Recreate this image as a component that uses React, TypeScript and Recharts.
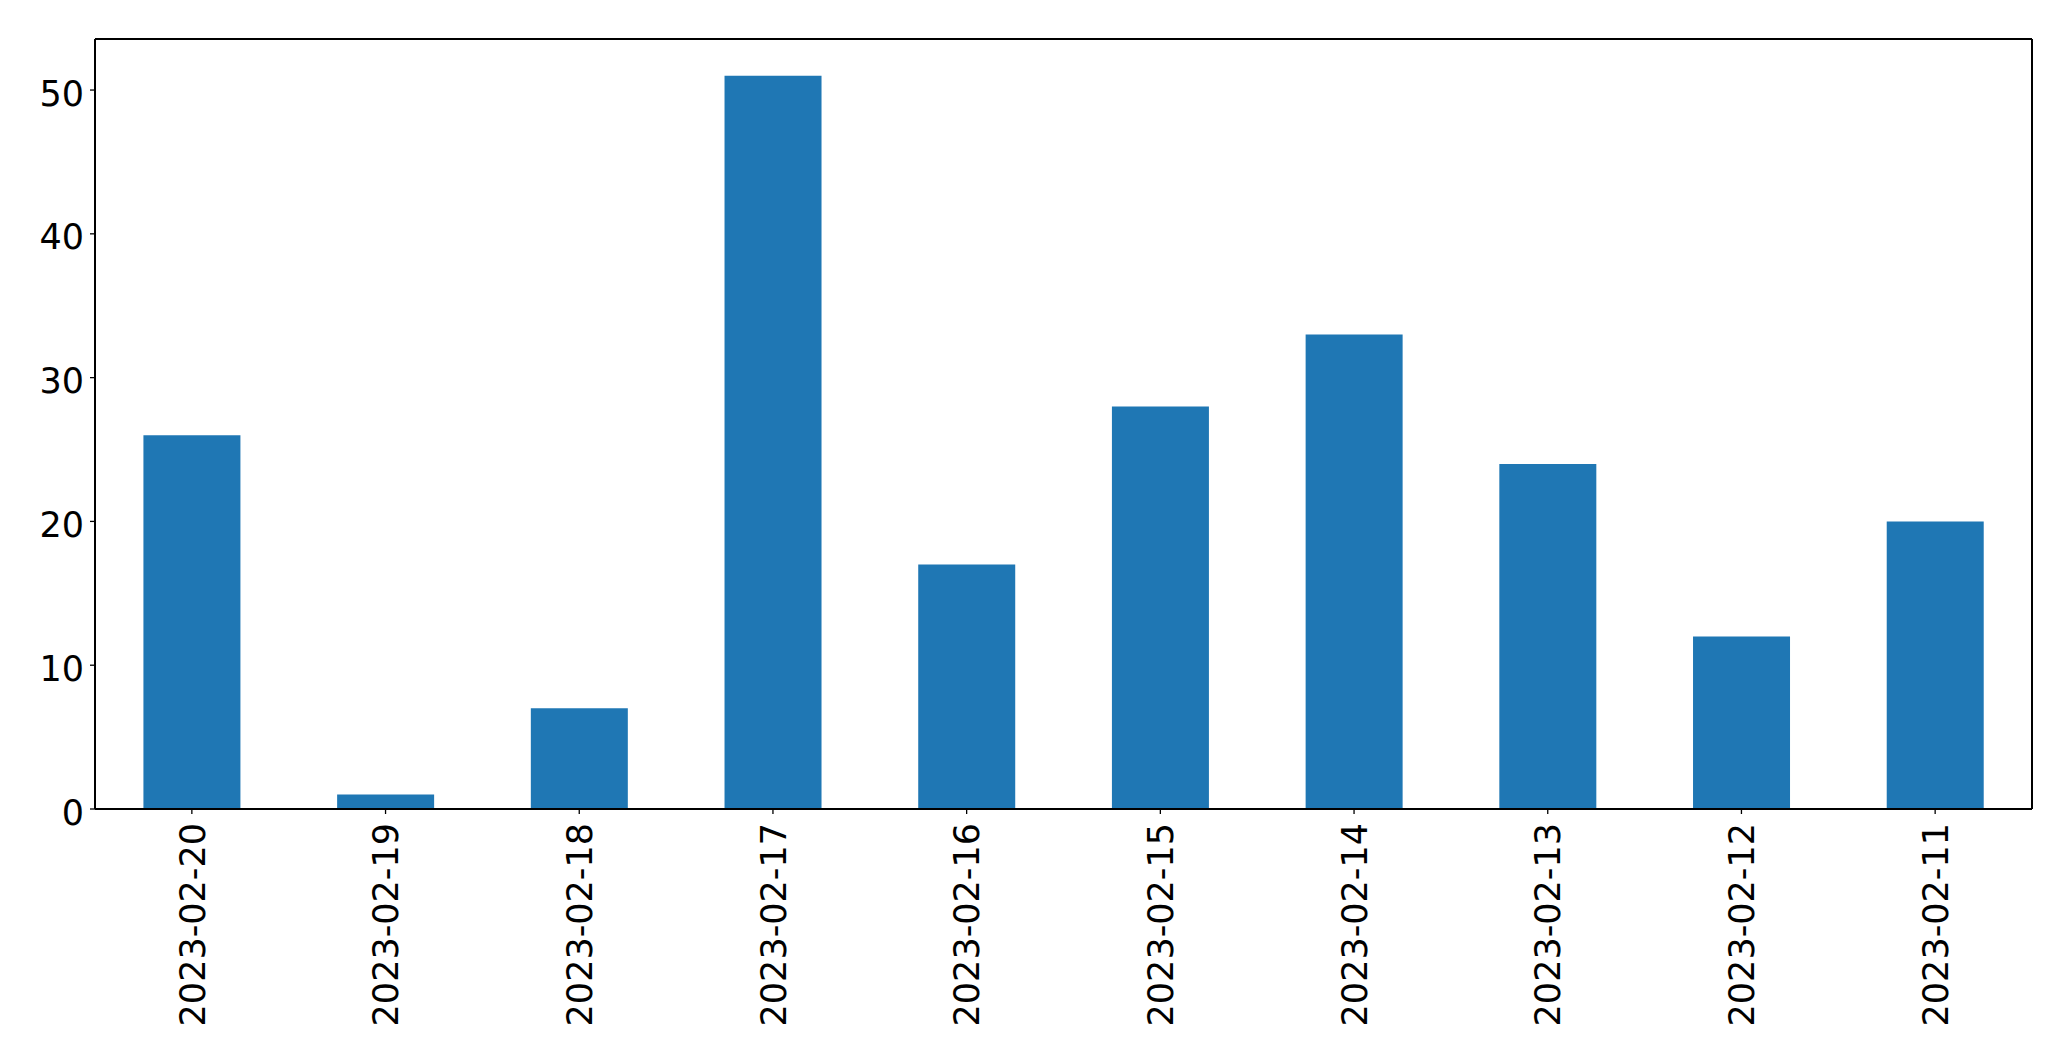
import { Bar, BarChart, XAxis, YAxis } from 'recharts'

const dates = [
  '2023-02-20',
  '2023-02-19',
  '2023-02-18',
  '2023-02-17',
  '2023-02-16',
  '2023-02-15',
  '2023-02-14',
  '2023-02-13',
  '2023-02-12',
  '2023-02-11',
]
const counts = [26, 1, 7, 51, 17, 28, 33, 24, 12, 20]
const yTicks = [0, 10, 20, 30, 40, 50]

const data = dates.map((date, i) => ({ date, count: counts[i] }))

const FONT = '"DejaVu Sans", sans-serif'
const FONT_SIZE = 35
const spine = { stroke: '#000', strokeWidth: 1.3, shapeRendering: 'crispEdges' }

// Labels read bottom to top, their top end just under the tick.
function DateTick({ x, y, payload }: any) {
  return (
    <text
      x={x}
      y={y}
      dy={12.7}
      transform={`rotate(-90, ${x}, ${y})`}
      textAnchor="end"
      fontFamily={FONT}
      fontSize={FONT_SIZE}
      fill="#000"
    >
      {payload.value}
    </text>
  )
}

function CountTick({ x, y, payload }: any) {
  return (
    <text
      x={x}
      y={y}
      dy={15.6}
      textAnchor="end"
      fontFamily={FONT}
      fontSize={FONT_SIZE}
      fill="#000"
    >
      {payload.value}
    </text>
  )
}

export default function App() {
  return (
    <div style={{ position: 'absolute', left: 0, top: 0, background: '#fff' }}>
      <BarChart
        width={2071}
        height={1061}
        data={data}
        margin={{ top: 38, right: 38, bottom: 0, left: 0 }}
        barCategoryGap="25%"
      >
        <XAxis
          dataKey="date"
          height={252}
          interval={0}
          tickSize={5}
          tickMargin={9}
          tickLine={{ stroke: '#000', strokeWidth: 1.3 }}
          axisLine={spine}
          tick={<DateTick />}
        />
        {/* top and right spines close the frame */}
        <XAxis
          xAxisId="top"
          dataKey="date"
          orientation="top"
          height={1}
          tick={false}
          tickLine={false}
          axisLine={spine}
        />
        <YAxis
          width={95}
          domain={[0, 53.55]}
          ticks={yTicks}
          allowDataOverflow
          tickSize={5}
          tickMargin={6}
          tickLine={{ stroke: '#000', strokeWidth: 1.3 }}
          axisLine={spine}
          tick={<CountTick />}
        />
        <YAxis
          yAxisId="right"
          orientation="right"
          width={1}
          tick={false}
          tickLine={false}
          axisLine={spine}
        />
        <Bar dataKey="count" fill="#1f77b4" isAnimationActive={false} />
      </BarChart>
    </div>
  )
}
